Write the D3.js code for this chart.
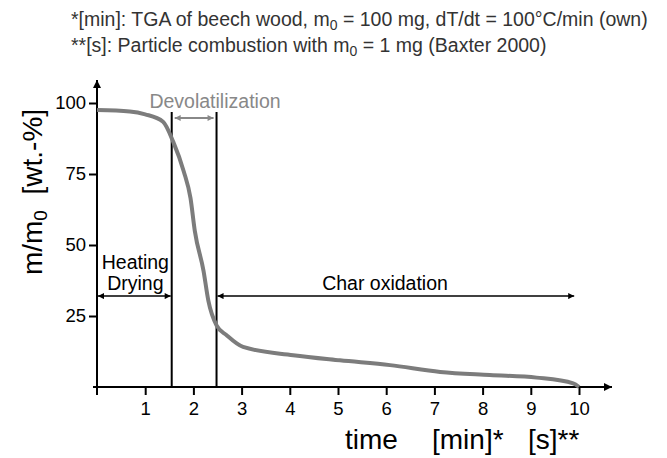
<!DOCTYPE html>
<html><head><meta charset="utf-8">
<script src="https://cdn.jsdelivr.net/npm/d3@7"></script>
<style>body{margin:0;background:#fff}svg{display:block}text{font-family:"Liberation Sans",Arial,sans-serif}</style>
</head><body><svg id="c" width="667" height="458"></svg>
<script>
const timeMin = [0, 0.68, 1.0, 1.37, 1.58, 1.80, 1.94, 2.03, 2.21, 2.31, 2.48, 2.69, 3.03, 4.07, 5.04, 6.08, 7.12, 8.15, 9.12, 9.88, 10.0];
const massPct = [97.5, 97, 96, 93.4, 86.4, 75.9, 66.5, 54.9, 40.9, 30.4, 21.7, 18.2, 14.1, 11.2, 9.4, 7.7, 5.3, 4.2, 3.3, 1.3, 0];
const xTicks = [1,2,3,4,5,6,7,8,9,10];
const yTicks = [25,50,75,100];
const phaseBounds = [0, 1.55, 2.48, 9.9];
const phaseLabels = ["Heating", "Drying", "Devolatilization", "Char oxidation"];
const noteLines = ["*[min]: TGA of beech wood, m|0| = 100 mg, dT/dt = 100°C/min (own)", "**[s]: Particle combustion with m|0| = 1 mg (Baxter 2000)"];

const svg = d3.select("#c");
const x = d3.scaleLinear().domain([0,10]).range([97,579]);
const y = d3.scaleLinear().domain([0,100]).range([387,103]);

const defs = svg.append("defs");
function marker(id, color, w, h){
  defs.append("marker").attr("id",id).attr("viewBox","0 0 10 10").attr("refX",10).attr("refY",5)
    .attr("markerWidth",w).attr("markerHeight",h).attr("markerUnits","userSpaceOnUse").attr("orient","auto-start-reverse")
    .append("path").attr("d","M0,0L10,5L0,10Z").attr("fill",color);
}
marker("ab","#000",14,6);
marker("ag","#888",12,6);
marker("ax","#000",14,8);

// notes
noteLines.forEach((s,i)=>{
  const t = svg.append("text").attr("x",71).attr("y",26+i*26).attr("font-size",19.5).attr("fill","#333");
  s.split("|").forEach((part,j)=>{
    const ts = t.append("tspan").text(part);
    if(j===1){ts.attr("font-size",14).attr("dy",4);}
    else if(j===2){ts.attr("dy",-4);}
  });
});

// axes
const gy = svg.append("g").attr("transform","translate(97,0)")
  .call(d3.axisLeft(y).tickValues(yTicks).tickSize(8).tickPadding(3));
gy.select(".domain").remove();
gy.selectAll(".tick line").attr("stroke","#000").attr("stroke-width",2);
gy.selectAll(".tick text").attr("font-size",18.5).attr("fill","#000").attr("font-family","Liberation Sans, Arial, sans-serif");
const gx = svg.append("g").attr("transform","translate(0,387)")
  .call(d3.axisBottom(x).tickValues(xTicks).tickSize(8).tickPadding(7));
gx.select(".domain").remove();
gx.selectAll(".tick line").attr("stroke","#000").attr("stroke-width",2);
gx.selectAll(".tick text").attr("font-size",18.5).attr("fill","#000").attr("font-family","Liberation Sans, Arial, sans-serif");

svg.append("line").attr("x1",x(0)).attr("x2",x(0)).attr("y1",y(0)+4).attr("y2",80)
  .attr("stroke","#000").attr("stroke-width",2).attr("marker-end","url(#ax)");
svg.append("line").attr("x1",x(0)-4).attr("x2",612).attr("y1",y(0)).attr("y2",y(0))
  .attr("stroke","#000").attr("stroke-width",2).attr("marker-end","url(#ax)");
svg.append("line").attr("x1",x(0)).attr("x2",x(0)).attr("y1",y(0)).attr("y2",y(0)+8).attr("stroke","#000").attr("stroke-width",2);

// phase boundary lines
[phaseBounds[1], phaseBounds[2]].forEach(b=>{
  svg.append("line").attr("x1",x(b)).attr("x2",x(b)).attr("y1",112).attr("y2",y(0))
    .attr("stroke","#000").attr("stroke-width",2);
});

// curve
svg.append("path").datum(timeMin.map((t,i)=>[t,massPct[i]]))
  .attr("d",d3.line().x(d=>x(d[0])).y(d=>y(d[1])).curve(d3.curveMonotoneX))
  .attr("fill","none").attr("stroke","#7c7c7c").attr("stroke-width",4).attr("stroke-linejoin","round");

// phase arrows
const arrowY = y(32);
function dbl(x1,x2,yy,m,color,w){
  svg.append("line").attr("x1",x1).attr("x2",x2).attr("y1",yy).attr("y2",yy)
    .attr("stroke",color).attr("stroke-width",w).attr("marker-start",`url(#${m})`).attr("marker-end",`url(#${m})`);
}
dbl(x(phaseBounds[0])+1, x(phaseBounds[1])-1, arrowY, "ab", "#000", 1.5);
dbl(x(phaseBounds[2])+1, x(phaseBounds[3]), arrowY, "ab", "#000", 1.5);
dbl(x(phaseBounds[1])+3, x(phaseBounds[2])-3, 118, "ag", "#888", 2);

const hx = (x(phaseBounds[0])+x(phaseBounds[1]))/2+1;
svg.append("text").attr("x",hx).attr("y",269).attr("text-anchor","middle").attr("font-size",19.5).text(phaseLabels[0]);
svg.append("text").attr("x",hx).attr("y",290).attr("text-anchor","middle").attr("font-size",19.5).text(phaseLabels[1]);
svg.append("text").attr("x",215).attr("y",108).attr("text-anchor","middle").attr("font-size",19.5).attr("fill","#888").text(phaseLabels[2]);
svg.append("text").attr("x",385).attr("y",290).attr("text-anchor","middle").attr("font-size",19.5).text(phaseLabels[3]);

// axis titles
const yl = svg.append("text").attr("transform","translate(42,192) rotate(-90)").attr("text-anchor","middle").attr("font-size",28);
yl.append("tspan").text("m/m");
yl.append("tspan").text("0").attr("font-size",19).attr("dy",5);
yl.append("tspan").text("\u00a0 [wt.-%]").attr("dy",-5);
svg.append("text").attr("x",345).attr("y",449).attr("font-size",28).text("time");
svg.append("text").attr("x",432).attr("y",449).attr("font-size",28).text("[min]*");
svg.append("text").attr("x",528).attr("y",449).attr("font-size",28).text("[s]**");
</script></body></html>
